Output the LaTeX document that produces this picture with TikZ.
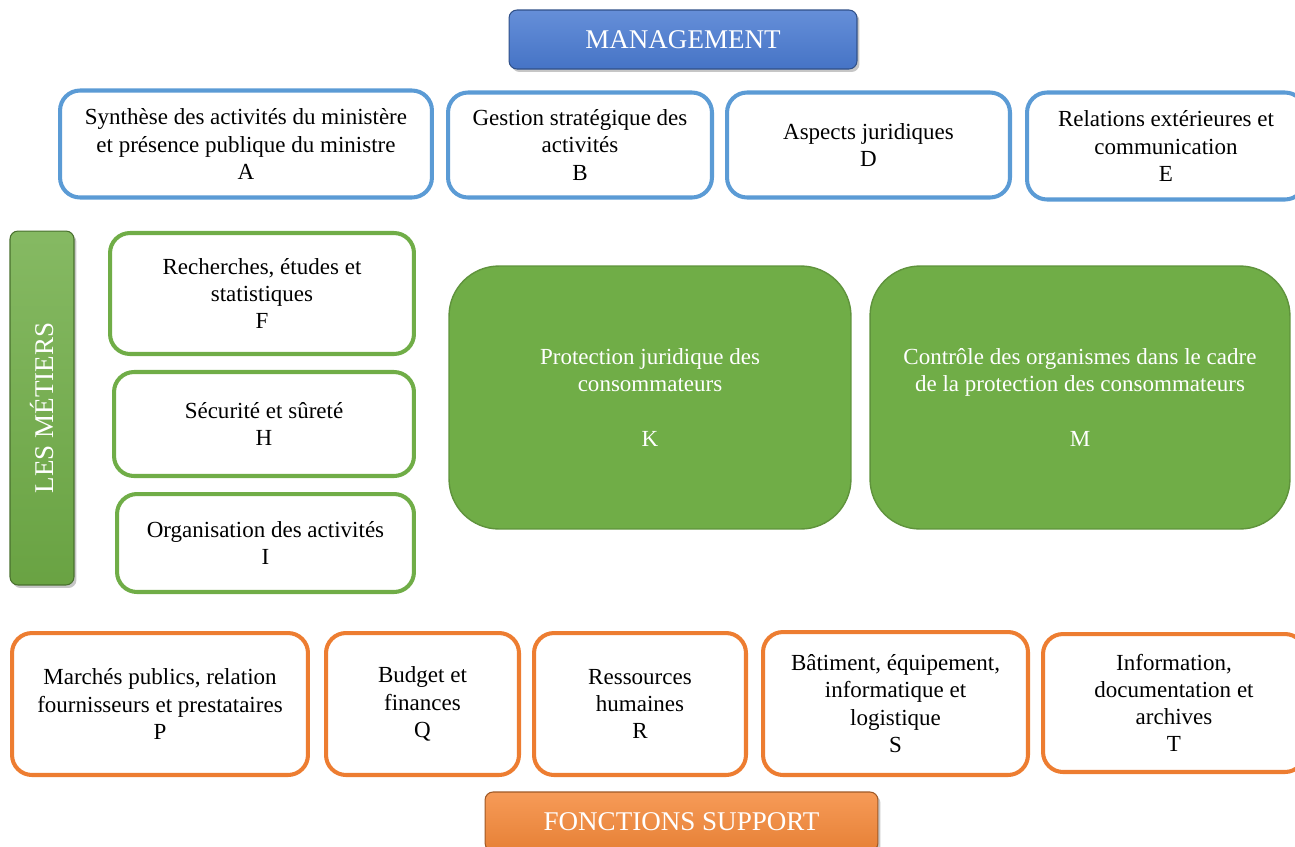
\documentclass[tikz,border=0pt]{standalone}
\usepackage{fontspec}
\setmainfont{Liberation Serif}
\usetikzlibrary{shadows}

\definecolor{mgtblue}{HTML}{4A7BD2}
\definecolor{lineblue}{HTML}{5B9BD5}
\definecolor{metgreen}{HTML}{70AD47}
\definecolor{suporange}{HTML}{ED7D31}
\definecolor{headorange}{HTML}{F5893A}

\tikzset{
  head/.style={rounded corners=0.16cm, draw=#1!65!black, line width=0.6pt,
    top color=#1!85!white, middle color=#1, bottom color=#1!94!black,
    text=white, font=\fontsize{15.4pt}{18pt}\selectfont,
    drop shadow={shadow xshift=0.05cm, shadow yshift=-0.06cm, opacity=0.45}},
  tile/.style={rounded corners=0.4cm, draw=#1, line width=2.3pt, fill=white,
    align=center, inner sep=2pt, font=\fontsize{13.1pt}{15.5pt}\selectfont},
  bigtile/.style={rounded corners=1cm, draw=metgreen!85!black, line width=0.8pt,
    fill=metgreen, text=white, align=center,
    font=\fontsize{13.1pt}{15.5pt}\selectfont}
}

\begin{document}
\begin{tikzpicture}[x=0.02cm, y=-0.02cm]
  \useasboundingbox (0,0) rectangle (1295,846);
  \clip (0,0) rectangle (1295,846);

  % management
  \node[head=mgtblue, minimum width=6.96cm, minimum height=1.18cm] (mgt) at (683,39.5) {MANAGEMENT};
  \node[tile=lineblue, minimum width=7.44cm, minimum height=2.14cm] (A) at (246,144)
    {Synthèse des activités du ministère\\et présence publique du ministre\\A};
  \node[tile=lineblue, minimum width=5.28cm, minimum height=2.1cm] (B) at (580,145)
    {Gestion stratégique des\\activités\\B};
  \node[tile=lineblue, minimum width=5.66cm, minimum height=2.1cm] (D) at (868.5,145)
    {Aspects juridiques\\D};
  \node[tile=lineblue, minimum width=5.56cm, minimum height=2.14cm] (E) at (1166,146)
    {Relations extérieures et\\communication\\E};

  % les metiers
  \node[head=metgreen, rotate=90, minimum width=7.08cm, minimum height=1.28cm] (met) at (42,408) {LES MÉTIERS};
  \node[tile=metgreen, minimum width=6.08cm, minimum height=2.42cm] (F) at (262,293.5)
    {Recherches, études et\\statistiques\\F};
  \node[tile=metgreen, minimum width=6cm, minimum height=2.08cm] (H) at (264,424)
    {Sécurité et sûreté\\H};
  \node[tile=metgreen, minimum width=5.94cm, minimum height=1.96cm] (I) at (265.5,543)
    {Organisation des activités\\I};
  \node[bigtile, minimum width=8.04cm, minimum height=5.26cm] (K) at (650,397.5)
    {Protection juridique des\\consommateurs\\ \\K};
  \node[bigtile, minimum width=8.4cm, minimum height=5.26cm] (M) at (1080,397.5)
    {Contrôle des organismes dans le cadre\\de la protection des consommateurs\\ \\M};

  % fonctions support
  \node[tile=suporange, minimum width=5.92cm, minimum height=2.84cm] (P) at (160,704)
    {Marchés publics, relation\\fournisseurs et prestataires\\P};
  \node[tile=suporange, minimum width=3.86cm, minimum height=2.84cm] (Q) at (422.5,704)
    {Budget et\\finances\\Q};
  \node[tile=suporange, minimum width=4.24cm, minimum height=2.84cm] (R) at (640,704)
    {Ressources\\humaines\\R};
  \node[tile=suporange, minimum width=5.3cm, minimum height=2.86cm] (S) at (895.5,703.5)
    {Bâtiment, équipement,\\informatique et\\logistique\\S};
  \node[tile=suporange, minimum width=5.24cm, minimum height=2.76cm] (T) at (1174,703)
    {Information,\\documentation et\\archives\\T};
  \node[head=headorange, minimum width=7.86cm, minimum height=1.18cm] (sup) at (681.5,821.5) {FONCTIONS SUPPORT};
\end{tikzpicture}
\end{document}
